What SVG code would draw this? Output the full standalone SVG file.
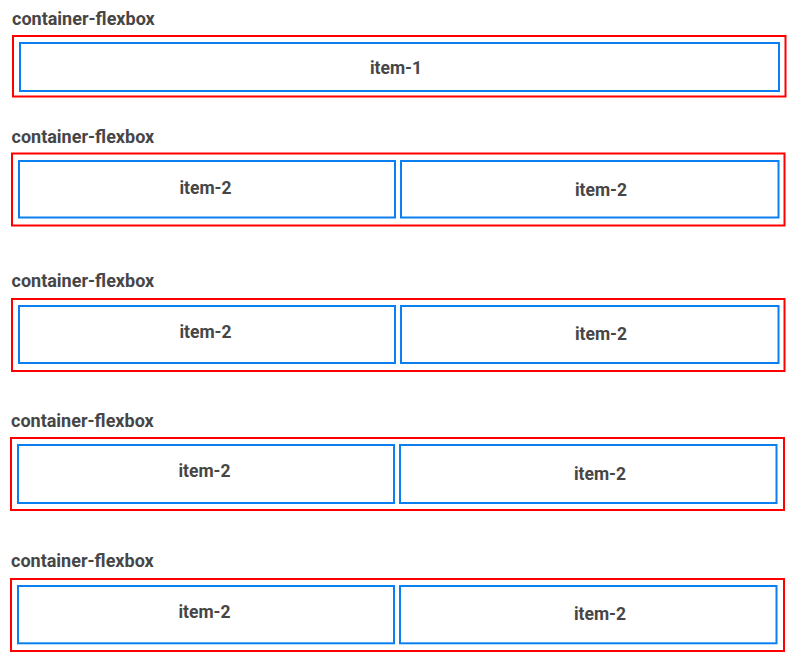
<svg xmlns="http://www.w3.org/2000/svg" width="800" height="662" viewBox="0 0 800 662">
<style>
.bg{fill:#ffffff}
.container{fill:none;stroke:#ff0000;stroke-width:2}
.item{fill:#ffffff;stroke:#0a80f0;stroke-width:2}
.head{font-family:Roboto,"Liberation Sans",sans-serif;font-weight:bold;font-size:18px;fill:#464646}
.label{font-family:Roboto,"Liberation Sans",sans-serif;font-weight:bold;font-size:17.5px;fill:#464646;text-anchor:middle}
</style>
<rect class="bg" x="0" y="0" width="800" height="662"/>
<g id="row1">
  <text class="head" x="12" y="25">container-flexbox</text>
  <g id="container1"><rect class="container" x="13" y="36" width="772.5" height="60.5"/></g>
  <g id="item1"><rect class="item" x="20" y="43" width="759" height="48"/><text class="label" x="396" y="73.5">item-1</text></g>
</g>
<g id="row2">
  <text class="head" x="11.5" y="143">container-flexbox</text>
  <g id="container2"><rect class="container" x="12" y="153.5" width="772.5" height="72"/></g>
  <g id="item2a"><rect class="item" x="19" y="161" width="376" height="56.5"/><text class="label" x="205.5" y="193.5">item-2</text></g>
  <g id="item2b"><rect class="item" x="401" y="161" width="377.5" height="56.5"/><text class="label" x="601" y="196">item-2</text></g>
</g>
<g id="row3">
  <text class="head" x="11.5" y="286.5">container-flexbox</text>
  <g id="container3"><rect class="container" x="12" y="299" width="772.5" height="72"/></g>
  <g id="item3a"><rect class="item" x="19" y="306" width="376" height="57"/><text class="label" x="205.5" y="337.5">item-2</text></g>
  <g id="item3b"><rect class="item" x="401" y="306" width="377.5" height="57"/><text class="label" x="601" y="340">item-2</text></g>
</g>
<g id="row4">
  <text class="head" x="11" y="426.5">container-flexbox</text>
  <g id="container4"><rect class="container" x="11" y="438" width="773" height="72"/></g>
  <g id="item4a"><rect class="item" x="18" y="445" width="376" height="58"/><text class="label" x="204.5" y="476.5">item-2</text></g>
  <g id="item4b"><rect class="item" x="400" y="445" width="376.5" height="58"/><text class="label" x="600" y="479.5">item-2</text></g>
</g>
<g id="row5">
  <text class="head" x="11" y="567">container-flexbox</text>
  <g id="container5"><rect class="container" x="11" y="579" width="773" height="72"/></g>
  <g id="item5a"><rect class="item" x="18" y="586" width="376" height="57.3"/><text class="label" x="204.5" y="617.5">item-2</text></g>
  <g id="item5b"><rect class="item" x="400" y="586" width="376.5" height="57.3"/><text class="label" x="600" y="620">item-2</text></g>
</g>
<g id="connectors"></g>
</svg>
